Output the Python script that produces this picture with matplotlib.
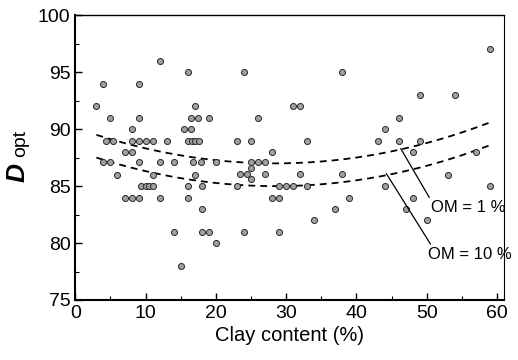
import numpy as np
import matplotlib
matplotlib.use('Agg')
import matplotlib.pyplot as plt
from matplotlib.ticker import MultipleLocator

plt.rcParams['font.family'] = ['Liberation Sans', 'DejaVu Sans']

# measured points (clay %, Dopt)
clay = [3, 4, 5, 4.4, 5.4, 3.9, 4.9, 6, 7, 8, 8, 9, 9, 8, 9, 10, 11, 13, 12, 16,
        17, 16.4, 17.4, 19, 15.5, 16.4, 16, 16.6, 17, 17.6, 9, 12, 14, 16.8, 17.9, 20,
        11, 17, 9.4, 10, 10.5, 11, 16, 18, 7, 8, 9, 12, 16, 18, 14, 18, 19, 20, 15,
        24, 38, 31, 32, 26, 23, 25, 33, 28, 25, 26, 27, 25, 23.5, 24.4, 27, 32, 38,
        25, 23, 29, 30, 31, 33, 28, 29, 39, 37, 34, 24, 29,
        59, 49, 54, 46, 44, 43, 46, 49, 48, 57, 53, 59, 44, 48, 47, 50]
dopt = [92, 94, 91, 89, 89, 87.1, 87.1, 86, 88, 88, 90, 94, 91, 89, 89, 89, 89, 89, 96, 95,
        92, 91, 91, 91, 90, 90, 89, 89, 89, 89, 87.1, 87.1, 87.1, 87.1, 87.1, 87.1,
        86, 86, 85, 85, 85, 85, 85, 85, 84, 84, 84, 84, 84, 83, 81, 81, 81, 80, 78,
        95, 95, 92, 92, 91, 89, 89, 89, 88, 87.1, 87.1, 87.1, 86.6, 86.1, 86.1, 86.1, 86.1, 86.1,
        85.6, 85, 85, 85, 85, 85, 84, 84, 84, 83, 82, 81, 81,
        97, 93, 93, 91, 90, 89, 89, 89, 88, 88, 86, 85, 85, 84, 83, 82]

# fitted curves
curve_x = [3, 6, 10, 15, 20, 25, 30, 35, 40, 45, 50, 55, 59]
om1_y = [89.5, 88.95, 88.3, 87.7, 87.3, 87.05, 87.0, 87.15, 87.5, 88.05, 88.8, 89.7, 90.6]
om10_y = [87.5, 86.95, 86.3, 85.7, 85.3, 85.05, 85.0, 85.15, 85.5, 86.05, 86.8, 87.7, 88.6]

fig = plt.figure(figsize=(5.18, 3.6), dpi=100)
ax = fig.add_axes([0.1454, 0.1667, 0.8276, 0.7908])

ax.scatter(clay, dopt, s=19, facecolor='#a0a0a0', edgecolor='#2a2a2a', linewidth=0.7, zorder=3)

# smooth the read curve with a quadratic through the read values
for cy in (om1_y, om10_y):
    c = np.polyfit(curve_x, cy, 2)
    xs = np.linspace(curve_x[0], curve_x[-1], 200)
    ax.plot(xs, np.polyval(c, xs), color='black', lw=1.3, dashes=(3.8, 2.8), zorder=2)

ax.annotate('OM = 1 %', xy=(46.3, 88.3), xytext=(50.6, 83.1), fontsize=12,
            va='center', ha='left',
            arrowprops=dict(arrowstyle='-', color='black', lw=0.9, shrinkA=0, shrinkB=0,
                            relpos=(0.0, 1.0)))
ax.annotate('OM = 10 %', xy=(44.25, 86.1), xytext=(50.2, 79.0), fontsize=12,
            va='center', ha='left',
            arrowprops=dict(arrowstyle='-', color='black', lw=0.9, shrinkA=0, shrinkB=0,
                            relpos=(0.05, 1.0)))

ax.set_xlim(0, 61)
ax.set_ylim(75, 100)
ax.xaxis.set_major_locator(MultipleLocator(10))
ax.xaxis.set_minor_locator(MultipleLocator(5))
ax.yaxis.set_major_locator(MultipleLocator(5))
ax.yaxis.set_minor_locator(MultipleLocator(2.5))
ax.tick_params(which='both', direction='in', top=False, right=False, labelsize=14)
ax.tick_params(which='major', length=5, width=1)
ax.tick_params(which='minor', length=3, width=0.8)
ax.spines['left'].set_linewidth(1.5)
ax.spines['bottom'].set_linewidth(1.5)
ax.spines['top'].set_linewidth(1.0)
ax.spines['right'].set_linewidth(0.8)

ax.set_xlabel('Clay content (%)', fontsize=14.5, labelpad=3)
fig.text(0.033, 0.521, 'D', fontsize=19, fontweight='bold', fontstyle='italic',
         rotation=90, ha='center', va='center')
fig.text(0.040, 0.601, 'opt', fontsize=14, rotation=90, ha='center', va='center')

fig.savefig('out.png', dpi=100)
